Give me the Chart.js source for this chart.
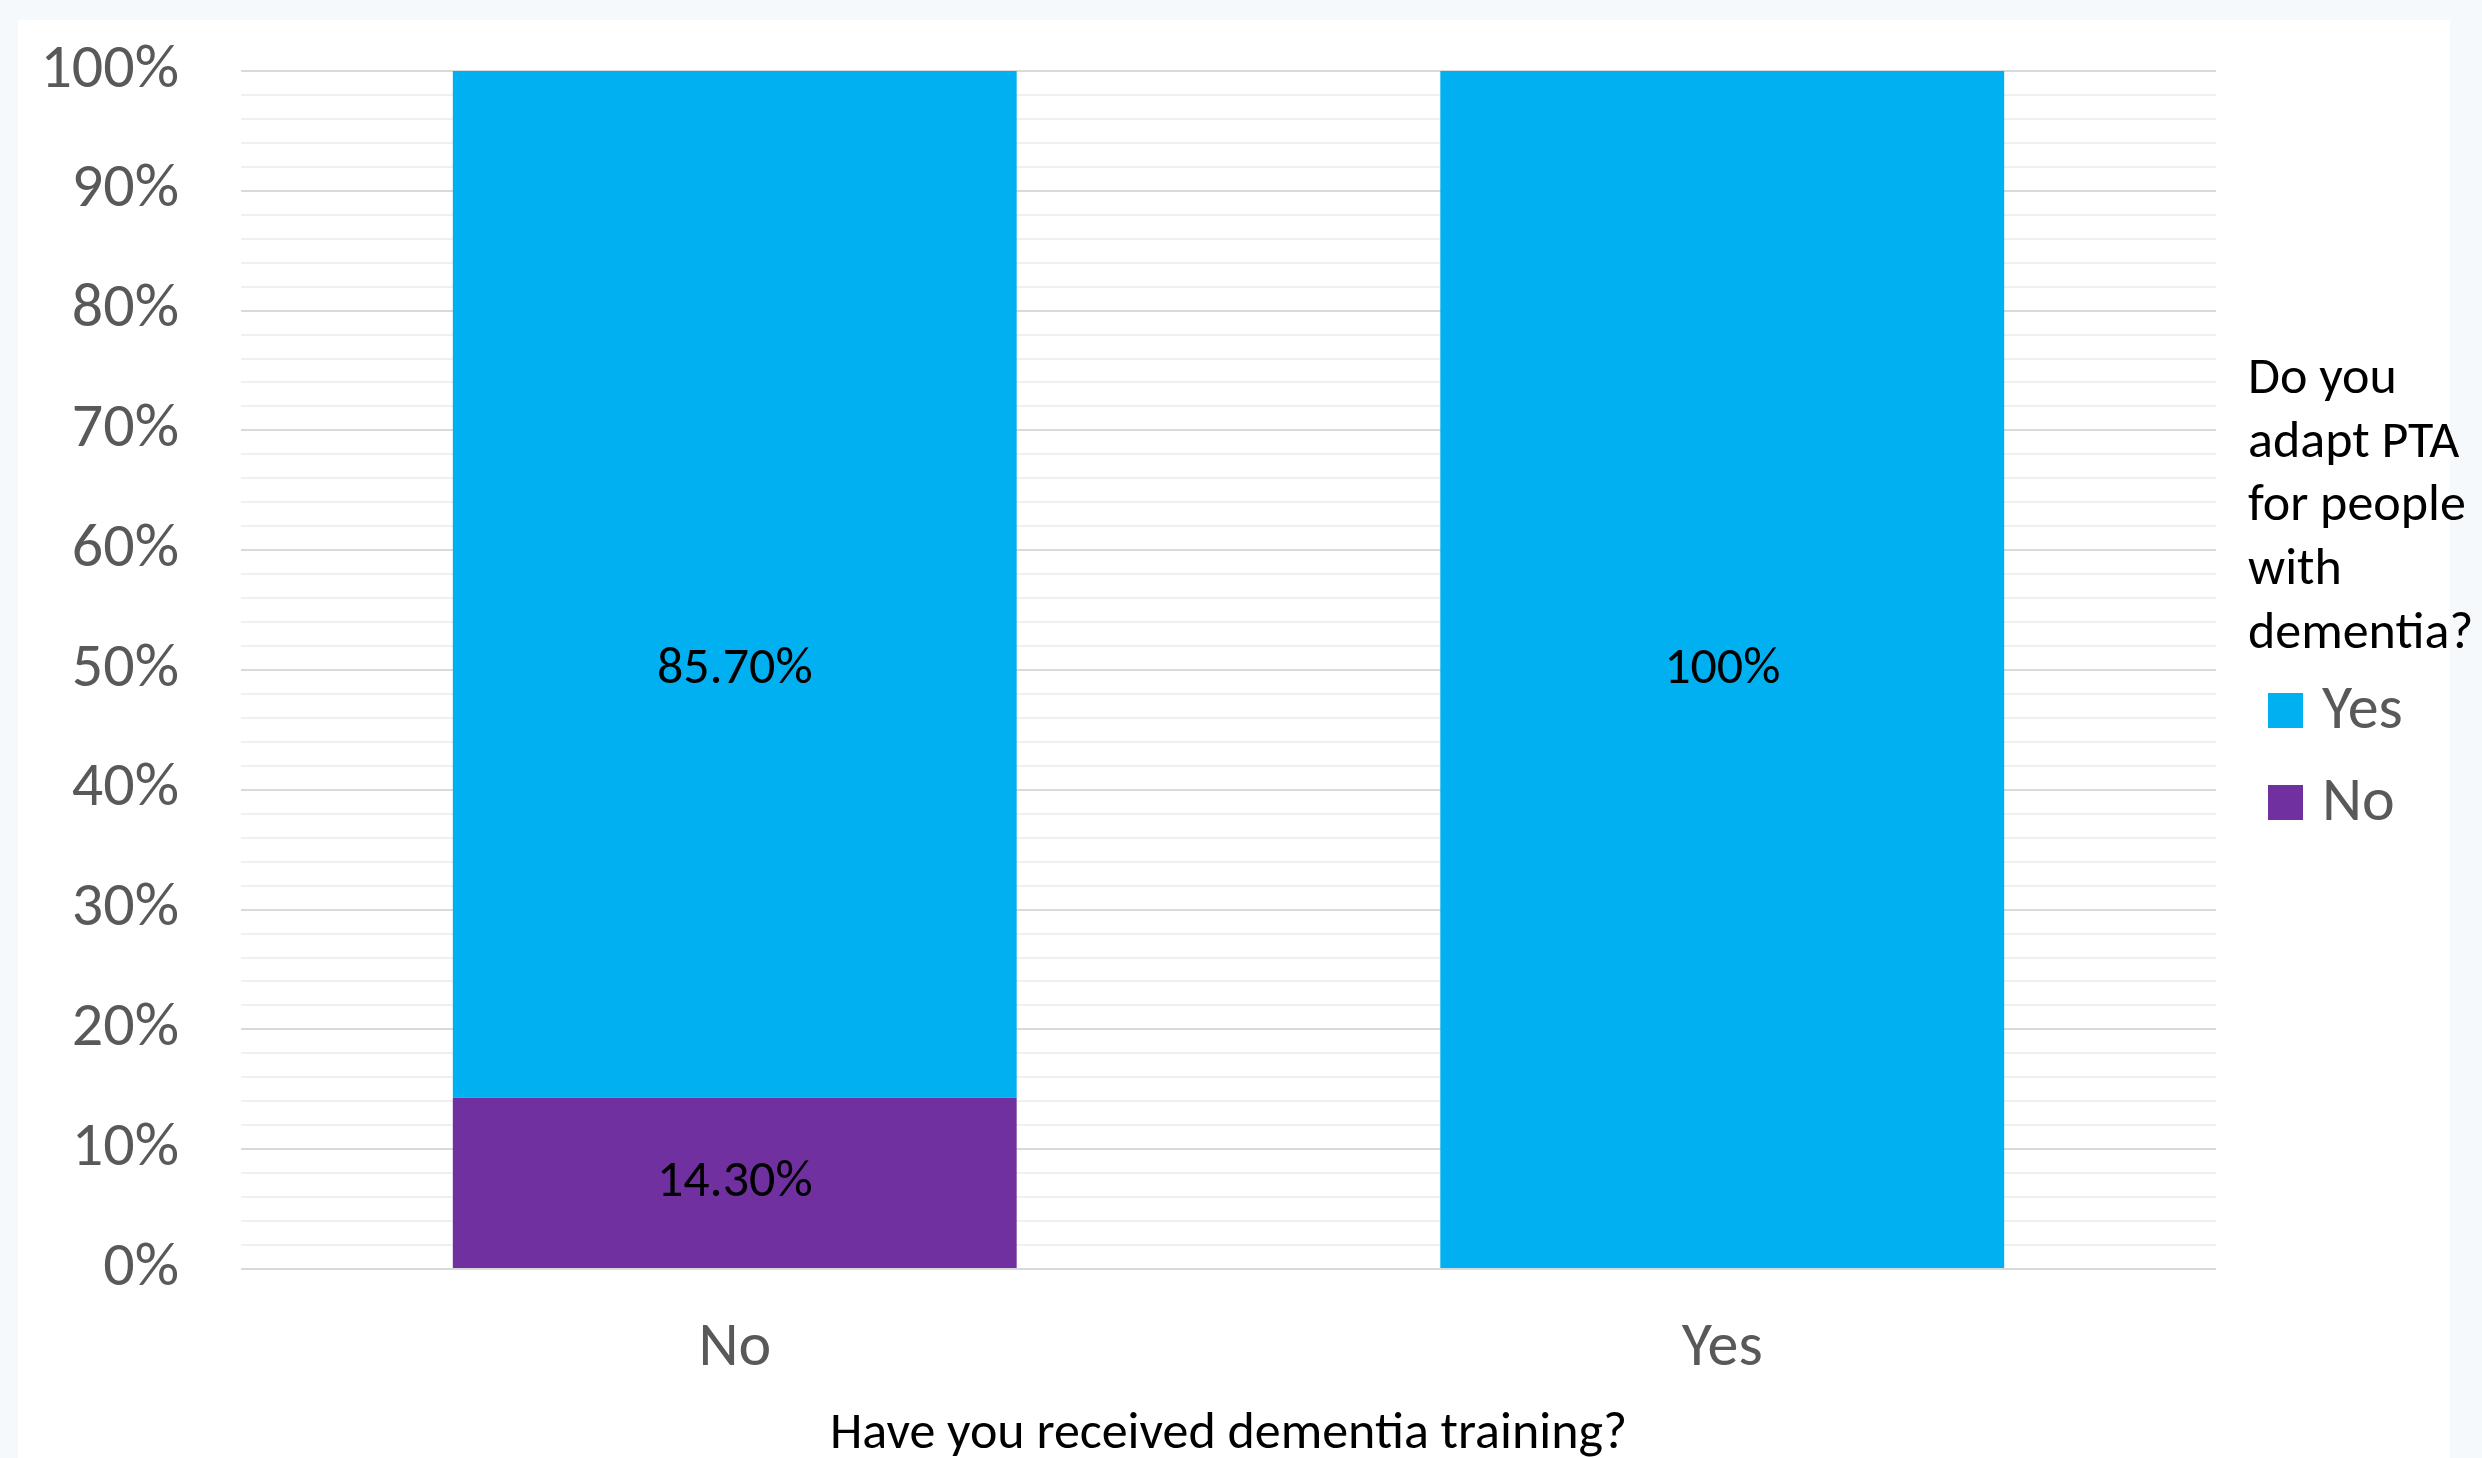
<!DOCTYPE html>
<html>
<head>
<meta charset="utf-8">
<script src="https://cdn.jsdelivr.net/npm/chart.js@4.4.1/dist/chart.umd.min.js"></script>
<style>
html, body { margin: 0; padding: 0; width: 2482px; height: 1458px; background: #f5f9fc; overflow: hidden; }
#panel { position: absolute; left: 18px; top: 20px; width: 2432px; height: 1438px; background: #ffffff; }
#chart { position: absolute; left: 0; top: 0; display: block; }
</style>
</head>
<body>
<div id="panel"></div>
<canvas id="chart" width="2482" height="1458"></canvas>
<script>
// data
const categories = ['No', 'Yes'];
const yesValues = [85.7, 100];
const noValues = [14.3, 0];
const yesLabels = ['85.70%', '100%'];
const noLabels = ['14.30%', ''];
const yTickLabels = ['0%', '10%', '20%', '30%', '40%', '50%', '60%', '70%', '80%', '90%', '100%'];
const legendTitle = ['Do you', 'adapt PTA', 'for people', 'with', 'dementia?'];
const xTitle = 'Have you received dementia training?';

const FONT = 'Carlito, Calibri, Lato, sans-serif';
Chart.defaults.font.family = FONT;

// value labels inside the bars
const barLabels = {
	id: 'barLabels',
	afterDatasetsDraw(chart) {
		const ctx = chart.ctx;
		const yScale = chart.scales.y;
		ctx.save();
		ctx.font = `52px ${FONT}`;
		ctx.fillStyle = '#000000';
		ctx.textAlign = 'center';
		ctx.textBaseline = 'middle';
		chart.data.datasets.forEach((ds, i) => {
			const meta = chart.getDatasetMeta(i);
			meta.data.forEach((bar, j) => {
				const text = ds.valueLabels[j];
				if (!text) return;
				let y;
				if (ds.label === 'Yes') {
					// sits in the middle of the whole column, as in the original
					y = (bar.y + yScale.getPixelForValue(0)) / 2;
				} else {
					y = (bar.y + bar.base) / 2;
				}
				ctx.fillText(text, bar.x, y);
			});
		});
		ctx.restore();
	}
};

// legend on the right with a wrapped title
const sideLegend = {
	id: 'sideLegend',
	afterDraw(chart) {
		const ctx = chart.ctx;
		const left = chart.chartArea.right + 32;
		ctx.save();
		ctx.textAlign = 'left';
		ctx.textBaseline = 'middle';
		ctx.font = `52px ${FONT}`;
		ctx.fillStyle = '#000000';
		legendTitle.forEach((line, i) => {
			ctx.fillText(line, left, 380 + i * 63.7);
		});
		const items = chart.data.datasets.slice().reverse();
		ctx.font = `62px ${FONT}`;
		items.forEach((ds, i) => {
			const cy = 710 + i * 92;
			ctx.fillStyle = ds.backgroundColor;
			ctx.fillRect(left + 20, cy - 17, 35, 35);
			ctx.fillStyle = '#595959';
			ctx.fillText(ds.label, left + 74, cy + 2);
		});
		ctx.restore();
	}
};

new Chart(document.getElementById('chart').getContext('2d'), {
	type: 'bar',
	data: {
		labels: categories,
		datasets: [
			{
				label: 'No',
				data: noValues,
				valueLabels: noLabels,
				backgroundColor: '#7030a0',
				borderWidth: 0,
				barPercentage: 0.571,
				categoryPercentage: 1
			},
			{
				label: 'Yes',
				data: yesValues,
				valueLabels: yesLabels,
				backgroundColor: '#00b0f0',
				borderWidth: 0,
				barPercentage: 0.571,
				categoryPercentage: 1
			}
		]
	},
	options: {
		responsive: false,
		animation: false,
		devicePixelRatio: 1,
		layout: { padding: { top: 71, right: 266, bottom: 0, left: 0 } },
		plugins: {
			legend: { display: false },
			tooltip: { enabled: false }
		},
		scales: {
			x: {
				stacked: true,
				grid: { display: false, drawTicks: false },
				border: { display: false },
				ticks: {
					color: '#595959',
					font: { size: 62 },
					padding: 43
				},
				title: {
					display: true,
					text: xTitle,
					color: '#000000',
					font: { size: 52 },
					padding: { top: 0, bottom: -8 }
				},
				afterFit: scale => {
					scale.height = 189;
					scale.paddingLeft = 0;
					scale.paddingRight = 0;
				}
			},
			y: {
				stacked: true,
				min: 0,
				max: 100,
				grid: {
					drawTicks: false,
					lineWidth: 2,
					color: c => (c.tick && c.tick.value % 10 === 0) ? '#d9d9d9' : '#f0f0f0'
				},
				border: { display: false },
				ticks: {
					stepSize: 2,
					autoSkip: false,
					color: '#595959',
					font: { size: 62 },
					padding: 62,
					callback: v => v % 10 === 0 ? yTickLabels[v / 10] : ''
				},
				afterFit: scale => {
					scale.width = 241;
					scale.paddingTop = 0;
					scale.paddingBottom = 0;
				}
			}
		}
	},
	plugins: [barLabels, sideLegend]
});
</script>
</body>
</html>
